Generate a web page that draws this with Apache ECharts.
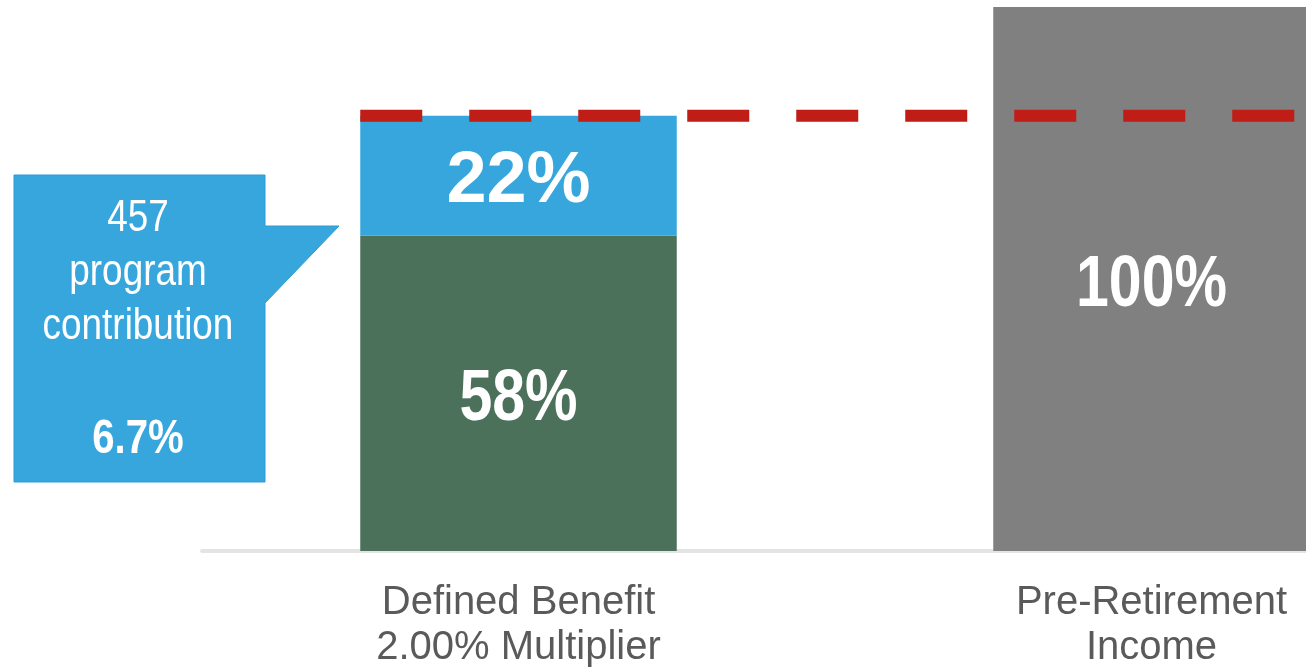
<!DOCTYPE html>
<html>
<head>
<meta charset="utf-8">
<script src="https://cdn.jsdelivr.net/npm/echarts@6/dist/echarts.min.js"></script>
<style>
  html, body { margin: 0; padding: 0; background: #ffffff; }
  #chart { width: 1306px; height: 667px; }
</style>
</head>
<body>
<div id="chart"></div>
<script>
// Replacement income comparison
const categories = ['Defined Benefit\n2.00% Multiplier', 'Pre-Retirement\nIncome'];
const definedBenefit = [58, null];      // green base
const programContribution = [22, null]; // blue top (457 program)
const preRetirement = [null, 100];      // grey reference bar
const targetLevel = 80;                 // dashed replacement target
const targetSpan = [-0.25, 1.5];        // from left edge of first bar to right end
const calloutLines = ['457', 'program', 'contribution'];
const calloutValue = '6.7%';

const regular = "'Liberation Sans', Arial, sans-serif";
const condense = 0.82; // horizontal squeeze for the narrow-style labels
const digitDrop = 7;   // centres the digits (not the em box) on the segment

const chart = echarts.init(document.getElementById('chart'));

chart.setOption({
  animation: false,
  grid: { left: 202, top: 7, width: 1266, bottom: 116, outerBoundsMode: 'none' },
  xAxis: [
    {
      type: 'category',
      data: categories,
      axisLine: { show: true, lineStyle: { color: '#e4e4e4', width: 4 } },
      axisTick: { show: false },
      axisLabel: {
        color: '#5a5a5a',
        fontFamily: regular,
        fontSize: 40,
        lineHeight: 45,
        margin: 29
      }
    },
    {
      type: 'value',
      min: -0.5,
      max: 1.5,
      show: false
    }
  ],
  yAxis: {
    type: 'value',
    min: 0,
    max: 100,
    show: false,
    splitLine: { show: false }
  },
  series: [
    {
      name: 'Defined Benefit',
      type: 'bar',
      stack: 'total',
      barWidth: '50%',
      data: definedBenefit,
      itemStyle: { color: '#4b715a' }
    },
    {
      name: '457 Program',
      type: 'bar',
      stack: 'total',
      data: programContribution,
      itemStyle: { color: '#36a6dd' },
      label: {
        show: true,
        position: 'inside',
        offset: [0, digitDrop],
        color: '#ffffff',
        fontFamily: regular,
        fontWeight: 'bold',
        fontSize: 72,
        formatter: p => p.value + '%'
      }
    },
    {
      name: 'Pre-Retirement Income',
      type: 'bar',
      stack: 'total',
      data: preRetirement,
      itemStyle: { color: '#808080' }
    },
    {
      name: 'Target',
      type: 'line',
      xAxisIndex: 1,
      symbol: 'none',
      silent: true,
      z: 5,
      data: targetSpan.map(x => [x, targetLevel]),
      lineStyle: { color: '#bf1d16', width: 12, type: [62, 47], cap: 'butt' }
    }
  ]
});

// Narrow bold value labels, centred on their segments via the chart's own scales
function segmentLabel(catIndex, base, value) {
  const pt = chart.convertToPixel({ xAxisIndex: 0, yAxisIndex: 0 }, [catIndex, base + value / 2]);
  return {
    type: 'text',
    x: pt[0],
    y: pt[1] + digitDrop,
    scaleX: condense,
    z: 10,
    style: {
      text: value + '%',
      fill: '#ffffff',
      font: 'bold 72px ' + regular,
      align: 'center',
      verticalAlign: 'middle'
    }
  };
}

const valueLabels = [
  segmentLabel(0, 0, definedBenefit[0]),
  segmentLabel(1, 0, preRetirement[1])
];

const callout = [
  {
    type: 'polygon',
    shape: {
      points: [[14, 175], [265, 175], [265, 226], [339, 226], [265, 303], [265, 482], [14, 482]]
    },
    style: { fill: '#36a6dd', stroke: '#2e9bd4', lineWidth: 1 }
  },
  ...calloutLines.map((t, i) => ({
    type: 'text',
    x: 138,
    y: 219 + i * 54,
    scaleX: condense,
    style: {
      text: t,
      fill: '#ffffff',
      font: '45px ' + regular,
      align: 'center',
      verticalAlign: 'middle'
    }
  })),
  {
    type: 'text',
    x: 138,
    y: 439,
    scaleX: condense,
    style: {
      text: calloutValue,
      fill: '#ffffff',
      font: 'bold 49px ' + regular,
      align: 'center',
      verticalAlign: 'middle'
    }
  }
];

chart.setOption({ graphic: callout.concat(valueLabels) });
</script>
</body>
</html>
